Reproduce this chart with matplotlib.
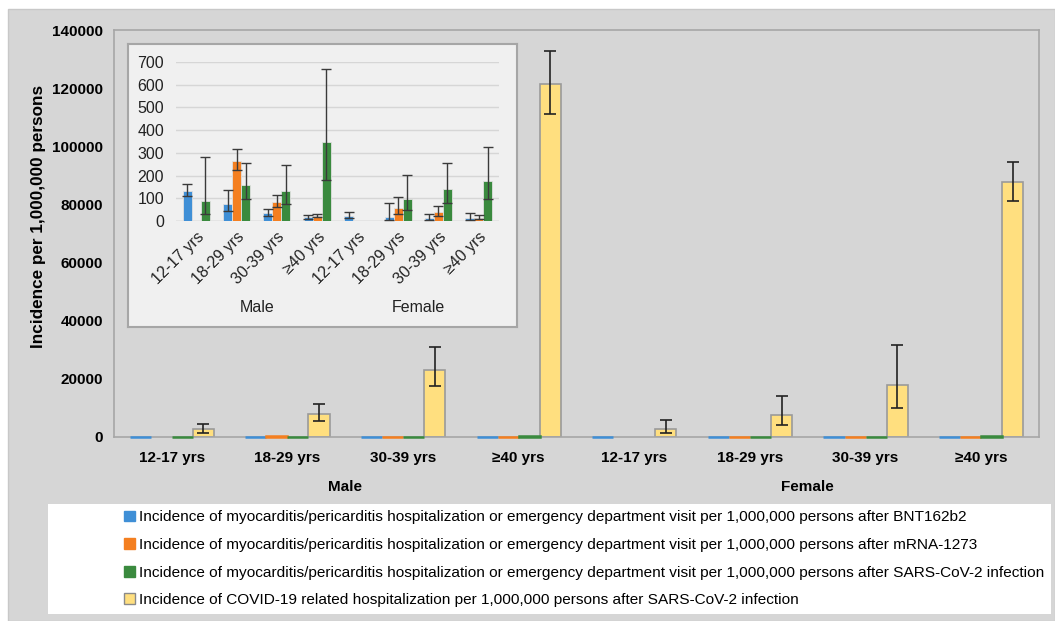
import numpy as np
import matplotlib
matplotlib.use("Agg")
import matplotlib.pyplot as plt
from matplotlib.patches import Rectangle, Patch

plt.rcParams['font.family'] = ['Liberation Sans', 'DejaVu Sans']

nan = np.nan
groups = ['12-17 yrs', '18-29 yrs', '30-39 yrs', '≥40 yrs',
          '12-17 yrs', '18-29 yrs', '30-39 yrs', '≥40 yrs']
sexes = ['Male', 'Female']

bnt = [132, 75, 37, 18, 22, 18, 13, 12]
bnt_lo = [110, 43, 22, 10, 12, 4, 6, 3]
bnt_hi = [163, 135, 51, 28, 38, 81, 32, 35]
mrna = [nan, 264, 85, 23, nan, 57, 41, 15]
mrna_lo = [nan, 223, 63, 16, nan, 29, 24, 7]
mrna_hi = [nan, 316, 116, 32, nan, 104, 66, 25]
sars = [88, 157, 132, 348, nan, 98, 140, 175]
sars_lo = [31, 97, 75, 181, nan, 47, 78, 95]
sars_hi = [280, 257, 248, 671, nan, 204, 254, 324]
covid = [2700, 7800, 23200, 121500, 2900, 7700, 17950, 87650]
covid_lo = [1400, 5400, 17700, 111000, 1300, 4000, 10000, 81350]
covid_hi = [4600, 11300, 30900, 132700, 5700, 14200, 31800, 94500]

labels = [
    'Incidence of myocarditis/pericarditis hospitalization or emergency department visit per 1,000,000 persons after BNT162b2',
    'Incidence of myocarditis/pericarditis hospitalization or emergency department visit per 1,000,000 persons after mRNA-1273',
    'Incidence of myocarditis/pericarditis hospitalization or emergency department visit per 1,000,000 persons after SARS-CoV-2 infection',
    'Incidence of COVID-19 related hospitalization per 1,000,000 persons after SARS-CoV-2 infection',
]
c_blue = '#3f8fd6'
c_orange = '#f47f20'
c_green = '#3a8a3e'
c_yellow = '#ffdf7f'
bgcol = '#d6d6d6'
framecol = '#a6a6a6'

W, H = 1055, 621
fig = plt.figure(figsize=(W / 100, H / 100), dpi=100, facecolor='white')

def fx(px):
    return px / W

def fy(py):
    return 1 - py / H

# outer gray panel
fig.patches.append(Rectangle((fx(8), 0), 1 - fx(8), fy(9), transform=fig.transFigure,
                             facecolor=bgcol, edgecolor='#c8c8c8', lw=1, zorder=-3))
# legend white box
fig.patches.append(Rectangle((fx(48), fy(614)), fx(1051) - fx(48), fy(504) - fy(614),
                             transform=fig.transFigure, facecolor='white',
                             edgecolor='none', zorder=-2))

# ---------------- main axes ----------------
ax = fig.add_axes([fx(114), fy(437), fx(1039) - fx(114), fy(30) - fy(437)])
ax.set_facecolor(bgcol)
x = np.arange(len(groups))
w = 0.182
vals = [bnt, mrna, sars, covid]
cols = [c_blue, c_orange, c_green, c_yellow]
for i, (v, c) in enumerate(zip(vals, cols)):
    off = (i - 1.5) * w
    if i < 3:
        ax.bar(x + off, v, w, color=c, edgecolor=c, lw=1.8, zorder=3, clip_on=False)
    else:
        v = np.array(v, float)
        ax.bar(x + off, v, w, color=c, edgecolor='#9a9a9a', lw=1.2, zorder=2)
        yerr = [v - np.array(covid_lo), np.array(covid_hi) - v]
        ax.errorbar(x + off, v, yerr=yerr, fmt='none', ecolor='#222222',
                    elinewidth=1.2, capsize=4, capthick=1.2, zorder=3)
ax.set_xlim(-0.5, 7.5)
ax.set_ylim(0, 140000)
ax.set_yticks(np.arange(0, 140001, 20000))
ax.set_yticklabels([str(t) for t in range(0, 140001, 20000)], fontsize=11, fontweight='bold')
ax.set_xticks(x)
ax.set_xticklabels(groups, fontsize=11, fontweight='bold')
ax.tick_params(axis='both', length=0)
ax.tick_params(axis='y', pad=8)
ax.tick_params(axis='x', pad=10)
for s in ax.spines.values():
    s.set_color(framecol)
    s.set_linewidth(1.2)
ax.set_ylabel('Incidence per 1,000,000 persons', fontsize=12.3, fontweight='bold')
ax.yaxis.set_label_coords(-(114 - 46) / (1039 - 114), (437 - 216) / (437 - 30))
for j, s in enumerate(sexes):
    ax.text(1.5 + 4 * j, -(487 - 437) / (437 - 30), s, transform=ax.get_xaxis_transform(),
            ha='center', va='center', fontsize=11, fontweight='bold')

# ---------------- inset ----------------
bg = fig.add_axes([fx(128), fy(327), fx(517) - fx(128), fy(44) - fy(327)])
bg.set_facecolor('#f0f0f0')
bg.set_xticks([])
bg.set_yticks([])
for s in bg.spines.values():
    s.set_color(framecol)
    s.set_linewidth(1.5)

ins = fig.add_axes([fx(176), fy(221), fx(499) - fx(176), fy(62) - fy(221)])
ins.set_facecolor('none')
wi = 0.223
ivals = [(bnt, bnt_lo, bnt_hi, c_blue), (mrna, mrna_lo, mrna_hi, c_orange),
         (sars, sars_lo, sars_hi, c_green)]
for i, (v, lo, hi, c) in enumerate(ivals):
    v = np.array(v, float)
    off = (i - 1) * wi
    ins.bar(x + off, v, wi, color=c, edgecolor='#e0e0e0', lw=0.6, zorder=2)
    yerr = [v - np.array(lo, float), np.array(hi, float) - v]
    ins.errorbar(x + off, v, yerr=yerr, fmt='none', ecolor='#3a3a3a',
                 elinewidth=1.0, capsize=3.5, capthick=1.0, zorder=3, clip_on=False)
ins.set_xlim(-0.5, 7.5)
ins.set_ylim(0, 700)
ins.set_yticks(np.arange(0, 701, 100))
ins.set_yticklabels([str(t) for t in range(0, 701, 100)], fontsize=11.5, color='#222222')
ins.yaxis.grid(True, color='#d6d6d6', lw=1)
ins.set_axisbelow(True)
ins.set_xticks(x)
ins.set_xticklabels(groups, fontsize=11.5, rotation=45, ha='right',
                    rotation_mode='anchor', color='#222222')
ins.tick_params(axis='both', length=0)
ins.tick_params(axis='y', pad=8.5)
ins.tick_params(axis='x', pad=6)
for k, s in ins.spines.items():
    s.set_visible(False)
ins.axhline(0, color='#d0d0d0', lw=1, zorder=1)
for j, s in enumerate(sexes):
    ins.text(1.5 + 4 * j, -(308 - 221) / (221 - 62), s, transform=ins.get_xaxis_transform(),
             ha='center', va='center', fontsize=11.5, color='#222222')

# ---------------- legend ----------------
handles = [Patch(facecolor=c_blue, edgecolor=c_blue),
           Patch(facecolor=c_orange, edgecolor=c_orange),
           Patch(facecolor=c_green, edgecolor=c_green),
           Patch(facecolor=c_yellow, edgecolor='#8a8a8a', lw=1)]
fig.legend(handles, labels, loc='upper left', bbox_to_anchor=(fx(119), fy(505)),
           frameon=False, fontsize=11.1, handlelength=0.7, handleheight=0.7,
           handletextpad=0.25, labelspacing=0.88, borderaxespad=0.0,
           borderpad=0.35)

fig.savefig('out.png', dpi=100, facecolor='white')
